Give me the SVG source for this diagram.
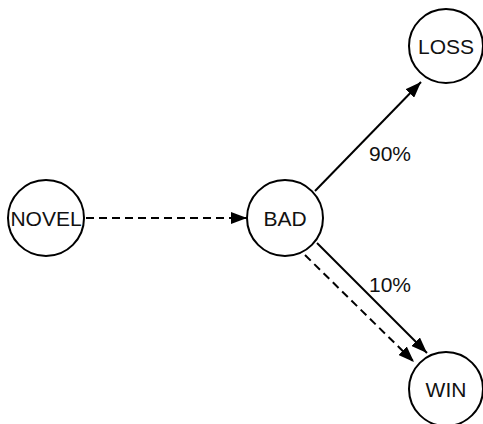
<svg xmlns="http://www.w3.org/2000/svg" width="483" height="424" viewBox="0 0 483 424">
<style>
.node circle{fill:#fff;stroke:#000;stroke-width:2}
.node text,.lbl{font-family:"Liberation Sans",Arial,sans-serif;font-size:21px;fill:#111;text-anchor:middle;dominant-baseline:central}
.edge{stroke:#000;stroke-width:2;fill:none}
.dash{stroke-dasharray:8 5}
</style>
<defs>
<marker id="ah" markerUnits="userSpaceOnUse" markerWidth="16" markerHeight="12" refX="16" refY="6" orient="auto">
<path d="M0,0 L16,6 L0,12 Z" fill="#000"/>
</marker>
</defs>
<rect width="483" height="424" fill="#fff"/>
<g id="connectors">
<line class="edge dash" x1="86" y1="218" x2="247" y2="218" marker-end="url(#ah)"/>
<line class="edge" x1="315" y1="191" x2="421" y2="82" marker-end="url(#ah)"/>
<line class="edge" x1="317" y1="243" x2="427" y2="353" marker-end="url(#ah)"/>
<line class="edge dash" x1="305" y1="255" x2="414" y2="362" marker-end="url(#ah)"/>
<text class="lbl" x="390" y="153">90%</text>
<text class="lbl" x="390" y="284">10%</text>
</g>
<g id="novel" class="node"><circle cx="46" cy="218" r="38"/><text x="46" y="218">NOVEL</text></g>
<g id="bad" class="node"><circle cx="285" cy="218" r="38"/><text x="285" y="218">BAD</text></g>
<g id="loss" class="node"><circle cx="446" cy="46" r="37"/><text x="446" y="46">LOSS</text></g>
<g id="win" class="node"><circle cx="446" cy="389" r="37"/><text x="446" y="389">WIN</text></g>
</svg>
